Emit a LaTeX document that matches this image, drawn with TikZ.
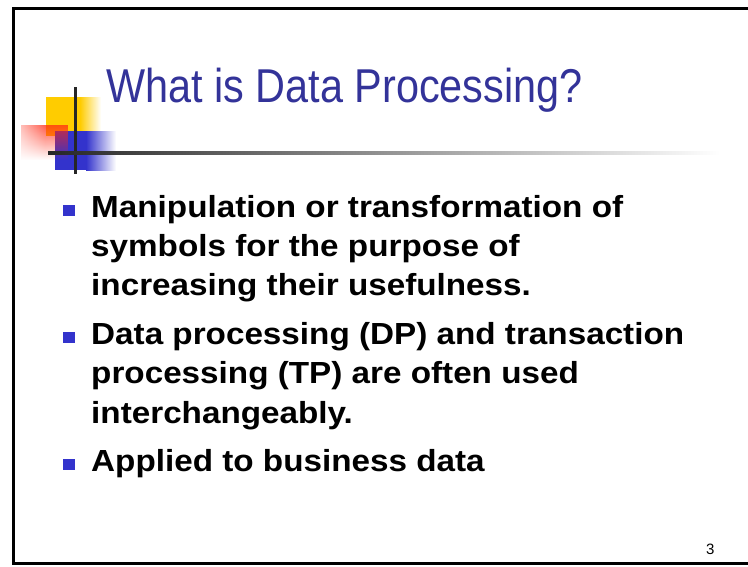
\documentclass[tikz,border=0pt]{standalone}
\usepackage{fontspec}
\setmainfont{Liberation Sans}
\usetikzlibrary{fadings}
\definecolor{titleblue}{RGB}{51,51,153}
\definecolor{bulletblue}{RGB}{51,51,204}
\definecolor{logoyellow}{RGB}{255,204,0}
\definecolor{logored}{RGB}{255,40,20}
\tikzset{
  bodyline/.style={anchor=base west,inner sep=0pt,xscale=1.09,transform shape,font=\fontsize{30.5}{40}\selectfont\bfseries},
  bulletbox/.style={fill=bulletblue,draw=none}
}
\begin{document}
\begin{tikzpicture}[x=1pt,y=-1pt]
      \useasboundingbox (0,0) rectangle (748,566);
      \fill[white] (0,0) rectangle (748,566);
      % frame
      \draw[line width=3pt] (750,8)--(13,8)--(13,563)--(750,563);
      % logo
      \fill[logoyellow] (46,97) rectangle (80,136);
      \shade[left color=logoyellow,right color=white] (80,97) rectangle (101,136);
      \fill[bulletblue] (55,131) rectangle (86,170);
      \shade[left color=bulletblue,right color=white] (86,131) rectangle (116,170);
      \fill[logored,path fading=south,opacity=0.75] (21,125) rectangle (68,160);
      \fill[white,path fading=east,opacity=0.6] (21,125) rectangle (45,160);
      \fill[black!85] (73.5,87) rectangle (76.5,174);
      \shade[left color=black!85,right color=white] (48,151.5) rectangle (720,154.5);
      % title
      \node[anchor=base west,inner sep=0pt,text=titleblue,font=\fontsize{47.5}{50}\selectfont,xscale=0.872,transform shape]
        (title) at (106,102) {What is Data Processing?};
      % bullets
      \fill[bulletblue] (63,205) rectangle (75,216);
      \node[bodyline] (l1) at (91,217) {Manipulation or transformation of};
      \node[bodyline] (l2) at (91,256) {symbols for the purpose of};
      \node[bodyline] (l3) at (91,295) {increasing their usefulness.};
      \fill[bulletblue] (63,332) rectangle (75,343);
      \node[bodyline] (l4) at (91,344) {Data processing (DP) and transaction};
      \node[bodyline] (l5) at (91,383) {processing (TP) are often used};
      \node[bodyline] (l6) at (91,423) {interchangeably.};
      \fill[bulletblue] (63,459) rectangle (75,470);
      \node[bodyline] (l7) at (91,471) {Applied to business data};
      % page number
      \node[anchor=base west,inner sep=0pt,font=\fontsize{15}{17}\selectfont] (page) at (706,554) {3};
    \end{tikzpicture}
\end{document}
